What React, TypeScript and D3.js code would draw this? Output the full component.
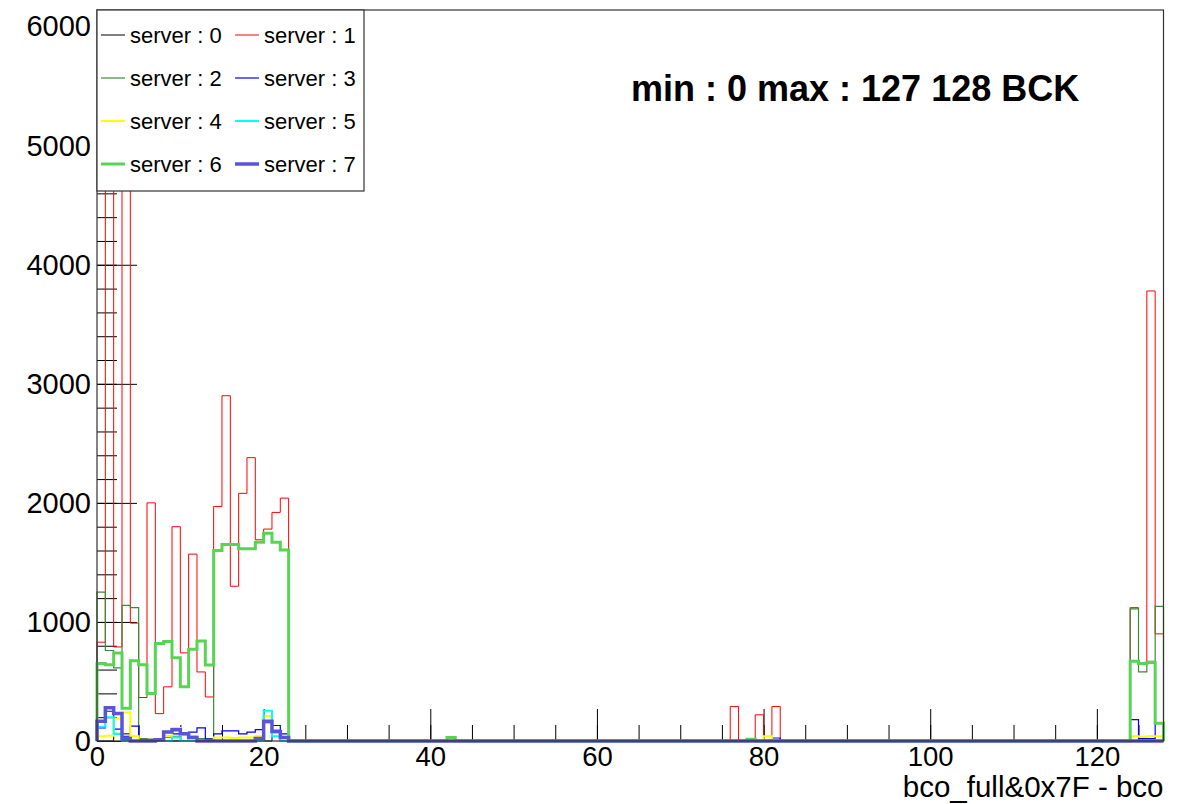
import React, { useEffect, useRef } from 'react';
import * as d3 from 'd3';

// bins of bco_full&0x7F - bco, 0..127
const NBINS = 128;
const xMajorTicks = [0, 20, 40, 60, 80, 100, 120];
const yMajorTicks = [0, 1000, 2000, 3000, 4000, 5000, 6000];

// [bin, entries] for the non-empty bins of each server
const server0 = [[2, 60], [3, 60], [21, 90]];
const server1 = [
  [0, 830], [1, 5200], [2, 790], [3, 5600], [4, 990], [5, 365], [6, 2000], [7, 230],
  [8, 455], [9, 1800], [10, 740], [11, 1570], [12, 580], [13, 370], [14, 1970], [15, 2900],
  [16, 1300], [17, 2080], [18, 2380], [19, 1690], [20, 1780], [21, 1920], [22, 2040],
  [76, 290], [79, 220], [81, 290], [124, 1120], [125, 650], [126, 3780], [127, 900],
];
const server2 = [
  [0, 1250], [1, 760], [2, 615], [3, 1140], [4, 1120], [5, 20], [6, 15], [7, 20], [8, 30],
  [9, 40], [10, 50], [11, 40], [12, 20], [13, 20], [14, 1600], [15, 1650], [16, 1650],
  [17, 1615], [18, 1615], [19, 1670], [20, 1745], [21, 1670], [22, 1605],
  [124, 1110], [125, 580], [126, 670], [127, 1130],
];
const server3 = [
  [0, 110], [1, 250], [2, 100], [3, 40], [4, 125], [5, 10], [6, 10], [7, 15], [8, 40],
  [9, 60], [10, 50], [11, 75], [12, 110], [13, 15], [14, 60], [15, 85], [16, 85], [17, 60],
  [18, 75], [19, 95], [20, 155], [21, 130], [22, 60], [81, 25],
  [124, 180], [125, 20], [126, 20], [127, 150],
];
const server4 = [
  [0, 40], [1, 45], [2, 190], [3, 240], [4, 40], [8, 40], [9, 110], [10, 50], [14, 30],
  [15, 30], [16, 25], [17, 30], [18, 30], [19, 40], [20, 210], [21, 70], [22, 30], [80, 40],
  [124, 40], [125, 35], [126, 40], [127, 40],
];
const server5 = [[0, 120], [1, 200], [2, 60], [9, 30], [20, 255], [21, 40]];
const server6 = [
  [0, 650], [1, 640], [2, 740], [3, 275], [4, 675], [5, 640], [6, 400], [7, 820], [8, 835],
  [9, 700], [10, 455], [11, 770], [12, 840], [13, 638], [14, 1600], [15, 1650], [16, 1650],
  [17, 1615], [18, 1615], [19, 1670], [20, 1745], [21, 1670], [22, 1605], [42, 30], [78, 15],
  [124, 670], [125, 650], [126, 660], [127, 150],
];
const server7 = [
  [0, 165], [1, 280], [2, 230], [3, 20], [7, 10], [8, 75], [9, 95], [10, 60], [11, 30],
  [19, 20], [20, 165], [21, 80], [22, 30],
];

const seriesData = [server0, server1, server2, server3, server4, server5, server6, server7];
const seriesNames = ['server : 0', 'server : 1', 'server : 2', 'server : 3', 'server : 4', 'server : 5', 'server : 6', 'server : 7'];
const seriesColors = ['#000000', '#ff0000', '#3a8a3a', '#0000ff', '#ffff00', '#00ffff', '#59d354', '#5954d8'];
const seriesWidths = [1, 1, 1.2, 1.2, 2, 2, 3, 3.5];

const FONT = '"Liberation Sans", Arial, Helvetica, sans-serif';

function toBins(pairs: number[][]) {
  const a = new Array(NBINS).fill(0);
  pairs.forEach(([b, v]) => { a[b] = v; });
  return a;
}

export default function App() {
  const ref = useRef<SVGSVGElement>(null);

  useEffect(() => {
    const svg = d3.select(ref.current);
    svg.selectAll('*').remove();

    const width = 1191, height = 804;
    const margin = { top: 10, right: 27.5, bottom: 63, left: 97 };
    const x = d3.scaleLinear().domain([0, NBINS]).range([margin.left, width - margin.right]);
    const y = d3.scaleLinear().domain([0, 6140]).range([height - margin.bottom, margin.top]);
    const y0 = height - margin.bottom;

    svg.append('rect').attr('width', width).attr('height', height).attr('fill', '#fff');

    // x axis
    const gx = svg.append('g').attr('transform', 'translate(0,' + y0 + ')');
    gx.append('g').call(d3.axisBottom(x).tickValues(d3.range(0, NBINS + 1, 5)).tickSize(-16).tickFormat(() => ''));
    gx.append('g').attr('class', 'xlab')
      .call(d3.axisBottom(x).tickValues(xMajorTicks).tickSizeInner(-32).tickSizeOuter(0).tickPadding(5).tickFormat(d3.format('d')));
    // y axis
    const gy = svg.append('g').attr('transform', 'translate(' + margin.left + ',0)');
    gy.append('g').call(d3.axisLeft(y).tickValues(d3.range(0, 6001, 200)).tickSize(-20).tickFormat(() => ''));
    gy.append('g').attr('class', 'ylab')
      .call(d3.axisLeft(y).tickValues(yMajorTicks).tickSizeInner(-40).tickSizeOuter(0).tickPadding(6).tickFormat(d3.format('d')));

    svg.selectAll('.domain').remove();
    svg.selectAll('.tick line').attr('stroke', '#000');
    svg.selectAll('.ylab .tick text')
      .attr('font-family', FONT)
      .attr('font-size', 29)
      .attr('fill', '#000');
    svg.selectAll('.xlab .tick text')
      .attr('font-family', FONT)
      .attr('font-size', 27.5)
      .attr('fill', '#000');

    // histograms
    const line = d3.line<number[]>().x(d => x(d[0])).y(d => y(d[1]));
    seriesData.forEach((pairs, k) => {
      const bins = toBins(pairs);
      const pts: number[][] = [[0, 0]];
      bins.forEach((v, i) => { pts.push([i, v]); pts.push([i + 1, v]); });
      pts.push([NBINS, 0]);
      svg.append('path')
        .attr('d', line(pts))
        .attr('fill', 'none')
        .attr('stroke', seriesColors[k])
        .attr('stroke-width', seriesWidths[k])
        .attr('stroke-linejoin', 'miter');
    });

    // frame
    svg.append('rect')
      .attr('x', margin.left).attr('y', margin.top)
      .attr('width', width - margin.right - margin.left)
      .attr('height', y0 - margin.top)
      .attr('fill', 'none').attr('stroke', '#333').attr('stroke-width', 1.2);

    // x title
    svg.append('text')
      .attr('x', width - margin.right).attr('y', 797)
      .attr('text-anchor', 'end')
      .attr('font-family', FONT).attr('font-size', 29.5)
      .text('bco_full&0x7F - bco');

    // stats text
    svg.append('text')
      .attr('x', 631).attr('y', 101)
      .attr('font-family', FONT).attr('font-size', 36).attr('font-weight', 'bold')
      .text('min : 0 max : 127 128 BCK');

    // legend
    const lg = svg.append('g');
    lg.append('rect')
      .attr('x', 97).attr('y', 10).attr('width', 267).attr('height', 181)
      .attr('fill', '#fff').attr('stroke', '#333').attr('stroke-width', 1.2);
    seriesNames.forEach((name, k) => {
      const col = k % 2, row = Math.floor(k / 2);
      const lx = 101 + col * 134;
      const ly = 35 + row * 43;
      lg.append('line')
        .attr('x1', lx).attr('x2', lx + 24).attr('y1', ly).attr('y2', ly)
        .attr('stroke', seriesColors[k]).attr('stroke-width', seriesWidths[k]);
      lg.append('text')
        .attr('x', lx + 29).attr('y', ly)
        .attr('dy', '0.36em')
        .attr('font-family', FONT).attr('font-size', 22)
        .text(name);
    });
  }, []);

  return (
    <svg ref={ref} width={1191} height={804}
      style={{ position: 'absolute', left: 0, top: 0, display: 'block' }} />
  );
}
